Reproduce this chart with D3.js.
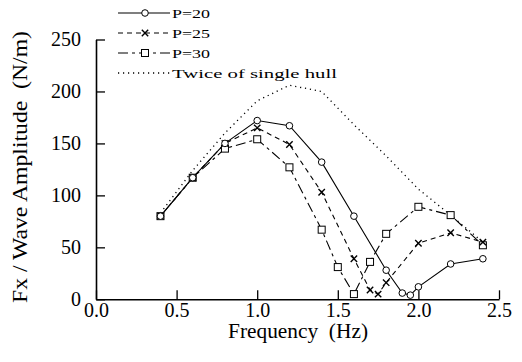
<!DOCTYPE html>
<html>
<head>
<meta charset="utf-8">
<script src="https://cdn.jsdelivr.net/npm/d3@7"></script>
<style>
  html, body { margin: 0; padding: 0; background: #fff; }
  svg { display: block; }
  svg text { font-family: 'Liberation Serif', 'Times New Roman', Times, serif; fill: #000; }
</style>
</head>
<body>
<svg id="chart" width="522" height="362"></svg>
<script>
// ---- data ----
const freqP20 = [0.4, 0.6, 0.8, 1.0, 1.2, 1.4, 1.6, 1.8, 1.9, 1.95, 2.0, 2.2, 2.4];
const valP20  = [80, 117, 150, 172, 167, 132, 80, 28, 6, 4, 12, 34, 39];

const freqP25 = [0.4, 0.6, 0.8, 1.0, 1.2, 1.4, 1.6, 1.7, 1.75, 1.8, 2.0, 2.2, 2.4];
const valP25  = [80, 117, 150, 165, 149, 103, 39, 9, 5, 16, 54, 64, 55];

const freqP30 = [0.4, 0.6, 0.8, 1.0, 1.2, 1.4, 1.5, 1.6, 1.7, 1.8, 2.0, 2.2, 2.4];
const valP30  = [80, 117, 145, 154, 127, 67, 31, 5, 36, 63, 89, 81, 52];

const freqSingle = [0.4, 0.6, 0.8, 1.0, 1.2, 1.4, 1.6, 1.8, 2.0, 2.2, 2.4];
const valSingle  = [83, 124, 160, 191, 206, 200, 168, 138, 106, 81, 55];

const xTicks = [0.0, 0.5, 1.0, 1.5, 2.0, 2.5];
const yTicks = [0, 50, 100, 150, 200, 250];
const seriesNames = ["P=20", "P=25", "P=30", "Twice of single hull"];

// ---- layout ----
const FONT = "'Liberation Serif', 'Times New Roman', Times, serif";
const svg = d3.select("#chart");
const x = d3.scaleLinear().domain([0, 2.5]).range([96, 499]);
const y = d3.scaleLinear().domain([0, 250]).range([299.3, 39.5]);

svg.append("rect").attr("width", 522).attr("height", 362).attr("fill", "#fff");

// axes
const xAxis = d3.axisBottom(x).tickValues(xTicks).tickSizeInner(-9).tickSizeOuter(0)
  .tickFormat(d3.format(".1f")).tickPadding(4);
const gx = svg.append("g").attr("transform", `translate(0,${y(0)})`).call(xAxis);
gx.attr("font-family", FONT).attr("font-size", 20);
gx.selectAll("text").style("font-family", FONT).style("font-size", "20px");

const yAxis = d3.axisLeft(y).tickValues(yTicks).tickSizeInner(-9).tickSizeOuter(0).tickPadding(15);
const gy = svg.append("g").attr("transform", `translate(${x(0)},0)`).call(yAxis);
gy.attr("font-family", FONT).attr("font-size", 20);
gy.selectAll("text").style("font-family", FONT).style("font-size", "20px");

[gx, gy].forEach(g => {
  g.select(".domain").attr("stroke", "#000").attr("stroke-width", 1.6);
  g.selectAll(".tick line").attr("stroke", "#000").attr("stroke-width", 1.3);
});

// axis titles
svg.append("text").attr("x", 298).attr("y", 338).attr("text-anchor", "middle")
  .style("font-family", FONT).style("font-size", "20px")
  .attr("textLength", 140).attr("lengthAdjust", "spacingAndGlyphs")
  .attr("xml:space", "preserve").text("Frequency  (Hz)");
svg.append("text").attr("transform", "translate(27,167) rotate(-90)").attr("text-anchor", "middle")
  .style("font-family", FONT).style("font-size", "20px")
  .attr("textLength", 272).attr("lengthAdjust", "spacingAndGlyphs")
  .attr("xml:space", "preserve").text("Fx / Wave Amplitude  (N/m)");

// series
const series = [
  { name: seriesNames[0], xs: freqP20, ys: valP20, dash: null, marker: "circle" },
  { name: seriesNames[1], xs: freqP25, ys: valP25, dash: "5,4", marker: "x" },
  { name: seriesNames[2], xs: freqP30, ys: valP30, dash: "10,4,3,4", marker: "square" },
  { name: seriesNames[3], xs: freqSingle, ys: valSingle, dash: "1.2,3.8", marker: null }
];

const line = d3.line().x(d => x(d[0])).y(d => y(d[1]));

function drawMarker(g, type, cx, cy) {
  if (type === "circle") {
    g.append("circle").attr("cx", cx).attr("cy", cy).attr("r", 3.3)
      .attr("fill", "#fff").attr("stroke", "#000").attr("stroke-width", 1);
  } else if (type === "square") {
    g.append("rect").attr("x", cx - 3.5).attr("y", cy - 3.5).attr("width", 7).attr("height", 7)
      .attr("fill", "#fff").attr("stroke", "#000").attr("stroke-width", 1);
  } else if (type === "x") {
    const s = 3.2;
    g.append("path").attr("d", `M${cx - s},${cy - s}L${cx + s},${cy + s}M${cx - s},${cy + s}L${cx + s},${cy - s}`)
      .attr("stroke", "#000").attr("stroke-width", 1.4).attr("fill", "none");
  }
}

[3, 2, 1, 0].forEach(i => {
  const s = series[i];
  const pts = s.xs.map((v, k) => [v, s.ys[k]]);
  svg.append("path").attr("d", line(pts)).attr("fill", "none").attr("stroke", "#000")
    .attr("stroke-width", i === 3 ? 1.3 : 1.1)
    .attr("stroke-dasharray", s.dash);
});
[2, 1, 0].forEach(i => {
  const s = series[i];
  const g = svg.append("g");
  s.xs.forEach((v, k) => drawMarker(g, s.marker, x(v), y(s.ys[k])));
});

// legend
const legend = svg.append("g");
const legTextLen = [38, 38, 38, 165];
series.forEach((s, i) => {
  const ly = 13 + i * 20;
  legend.append("line").attr("x1", 118).attr("x2", 170).attr("y1", ly).attr("y2", ly)
    .attr("stroke", "#000").attr("stroke-width", i === 3 ? 1.3 : 1.1)
    .attr("stroke-dasharray", s.dash);
  if (s.marker) drawMarker(legend, s.marker, 145, ly);
  legend.append("text").attr("x", 172).attr("y", ly + 4.5)
    .style("font-family", FONT).style("font-size", "13px")
    .attr("textLength", legTextLen[i]).attr("lengthAdjust", "spacingAndGlyphs")
    .text(s.name);
});
</script>
</body>
</html>
